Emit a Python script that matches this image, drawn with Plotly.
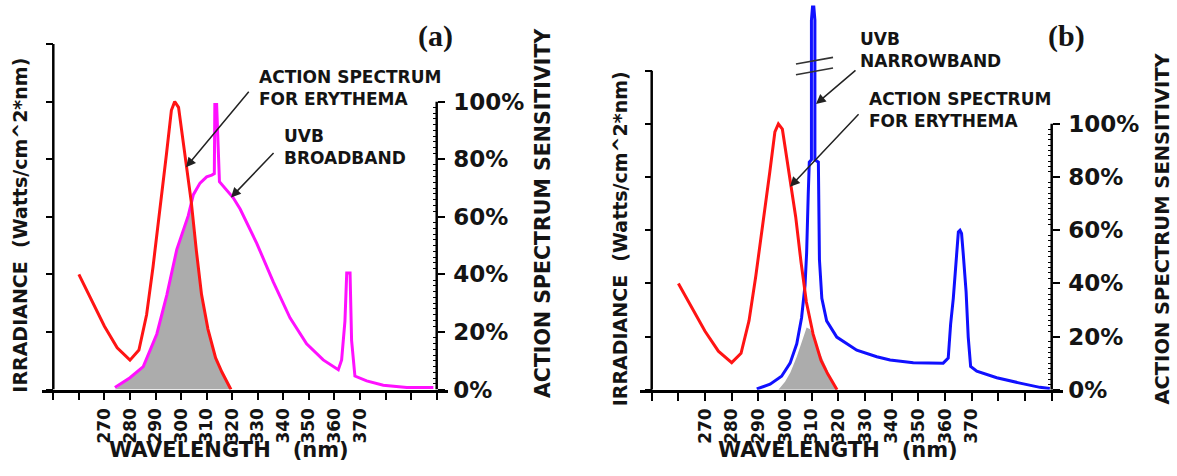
import plotly.graph_objects as go

W, H = 1177, 476

# ---------------- data ----------------
# erythema action spectrum (% sensitivity) - same curve in both panels
ery_wl = [260, 265, 270, 275, 280, 283.5, 286.5, 289, 291.5, 294.3, 296.2, 297.5, 299,
          301, 303, 304, 306, 308, 310.5, 313.5, 316, 318, 319.5]
ery_pct = [40, 31, 22, 14.5, 10.2, 13.7, 26, 42.5, 60.5, 82, 97, 100, 98,
           85, 72, 65, 48, 33, 21, 11, 6, 2.5, 0]

# UVB broadband lamp irradiance (panel a)
bb_wl = [274.1, 280.0, 285.2, 290.5, 294.4, 298.3, 302.8, 304.8, 307.4, 310.0, 312.0, 313.0,
         313.2, 313.9, 315.0, 320.4, 323.1, 329.6, 336.1, 342.6, 349.1, 355.6, 361.5, 362.8,
         364.1, 364.8, 366.1, 366.7, 368.0, 372.6, 379.1, 388.3, 398.7]
bb_irr = [0.7, 4.1, 8.0, 19.3, 32.8, 48.6, 60.4, 67.7, 71.7, 73.9, 74.5, 75.0,
          99.0, 99.0, 72.2, 66.6, 62.7, 50.8, 37.3, 24.9, 15.9, 10.3, 6.9, 10.3,
          23.8, 40.5, 40.5, 17.1, 4.7, 3.0, 1.5, 0.7, 0.7]

# UVB narrowband lamp irradiance (panel b)
nb_wl = [289.4, 294.4, 298.7, 301.9, 304.4, 306.2, 307.5, 308.1, 308.7, 309.1, 309.9, 309.9,
         310.3, 310.8, 311.2, 311.2, 312.5, 312.9, 313.8, 315.6, 319.4, 326.9, 334.4, 339.4,
         348.1, 359.3, 361.2, 362.1, 363.1, 364.1, 365.0, 365.6, 366.2, 366.8, 367.9, 368.7,
         369.6, 371.9, 379.4, 388.1, 395.6, 399.3]
nb_irr = [0.3, 2.1, 5.1, 10.0, 17.3, 27.1, 39.3, 51.5, 73.4, 85.6, 86.5, 139.0,
          144.0, 144.0, 139.0, 86.5, 85.6, 49.0, 34.4, 25.9, 19.8, 14.9, 12.4, 11.2,
          10.2, 10.0, 11.9, 24.7, 34.4, 49.0, 59.4, 60.0, 58.8, 51.5, 36.8, 19.8,
          8.8, 7.0, 4.5, 2.5, 0.9, 0.5]

# shaded (erythemally effective) regions
eff_a_wl = [274.1, 280.0, 285.2, 290.5, 294.4, 298.3, 302.8, 304.0, 306.0, 308.0, 310.5,
            313.5, 316.0, 318.0, 319.5]
eff_a = [0, 4.1, 8.0, 19.3, 32.8, 48.6, 60.4, 64.5, 48, 33, 21, 11, 6, 2.5, 0]
eff_b_wl = [297.5, 300.0, 302.0, 304.4, 306.9, 308.1, 309.4, 310.6, 313.1, 315.6, 318.1, 319.4]
eff_b = [0, 3.0, 6.5, 12.4, 19.8, 23.4, 22.8, 19.8, 13.7, 8.1, 2.0, 0]

wavelength_ticks = [250, 260, 270, 280, 290, 300, 310, 320, 330, 340, 350, 360, 370, 380, 390, 400]
wavelength_labels = ["", "", "270", "280", "290", "300", "310", "320", "330", "340", "350",
                     "360", "370", "", "", ""]
irradiance_ticks = [0, 20, 40, 60, 80, 100, 120]
sens_ticks = [0, 20, 40, 60, 80, 100]
sens_labels = ["0%", "20%", "40%", "60%", "80%", "100%"]
sens_minor = [v for v in range(0, 101, 2) if v % 20]

# ---------------- helpers ----------------
def px(x):
    return x / W


def py(y):
    return 1 - y / H


FONT = "DejaVu Sans"
INK = "#141414"
RED = "#ff1414"
MAG = "#ff10ff"
BLUE = "#1010ff"
GRAY = "#acacac"

fig = go.Figure()

# panel a
fig.add_trace(go.Scatter(x=eff_a_wl, y=eff_a, xaxis="x", yaxis="y", fill="toself",
                         fillcolor=GRAY, line=dict(width=0), mode="lines", hoverinfo="skip"))
fig.add_trace(go.Scatter(x=bb_wl, y=bb_irr, xaxis="x", yaxis="y", mode="lines",
                         line=dict(color=MAG, width=3), name="UVB broadband"))
fig.add_trace(go.Scatter(x=ery_wl, y=ery_pct, xaxis="x", yaxis="y2", mode="lines",
                         line=dict(color=RED, width=3), name="Erythema"))
# panel b
fig.add_trace(go.Scatter(x=eff_b_wl, y=eff_b, xaxis="x2", yaxis="y3", fill="toself",
                         fillcolor=GRAY, line=dict(width=0), mode="lines", hoverinfo="skip"))
fig.add_trace(go.Scatter(x=nb_wl, y=nb_irr, xaxis="x2", yaxis="y3", mode="lines",
                         line=dict(color=BLUE, width=3), name="UVB narrowband"))
fig.add_trace(go.Scatter(x=ery_wl, y=ery_pct, xaxis="x2", yaxis="y4", mode="lines",
                         line=dict(color=RED, width=3), name="Erythema"))

tickfont_x = dict(family=FONT, size=17, color=INK, weight="bold")
tickfont_r = dict(family=FONT, size=23, color=INK, weight="bold")


def xaxis_cfg(dom, anchor):
    return dict(domain=dom, range=[245.6, 404.4], anchor=anchor, showgrid=False, zeroline=False,
                showline=True, linecolor="black", linewidth=2.5,
                tickmode="array", tickvals=wavelength_ticks, ticktext=wavelength_labels,
                ticks="outside", ticklen=8, tickwidth=2, tickcolor="black",
                tickangle=-90, tickfont=tickfont_x, ticklabelstandoff=1)


def left_cfg(dom, rng, pos):
    return dict(domain=dom, range=rng, anchor="free", position=pos, showgrid=False,
                zeroline=False, showline=False, tickmode="array", tickvals=irradiance_ticks,
                ticks="outside", ticklen=7, tickwidth=2, tickcolor="black",
                showticklabels=False)


def right_cfg(over, rng, pos):
    return dict(overlaying=over, side="right", range=rng, anchor="free", position=pos,
                showgrid=False, zeroline=False, showline=False,
                tickmode="array", tickvals=sens_ticks, ticktext=sens_labels,
                ticks="outside", ticklen=7, tickwidth=2, tickcolor="black",
                tickfont=tickfont_r, ticklabelstandoff=4,
                minor=dict(tickmode="array", tickvals=sens_minor, ticks="inside",
                           ticklen=4, tickwidth=1.3, tickcolor="black"))


a_bottom, a_top = 400.5, 400.5 - 120 * 2.96
b_bottom = 400.7
b_max = b_bottom / 2.7335

fig.update_layout(
    width=W, height=H, margin=dict(l=0, r=0, t=0, b=0),
    paper_bgcolor="white", plot_bgcolor="white", showlegend=False,
    xaxis=xaxis_cfg([px(42.05), px(447.95)], "y"),
    yaxis=left_cfg([py(a_bottom), py(a_top)], [0, 120], px(53.3)),
    yaxis2=right_cfg("y", [0, 120], px(436.7)),
    xaxis2=xaxis_cfg([px(639.97), px(1063.43)], "y3"),
    yaxis3=left_cfg([py(b_bottom), 1], [0, b_max], px(651.7)),
    yaxis4=right_cfg("y3", [0, b_max], px(1051.7)),
)

# vertical axis lines
axis_line = dict(color="black", width=2.5)
shapes = [
    dict(type="line", xref="x", yref="y", x0=250, x1=250, y0=0, y1=120, line=axis_line),
    dict(type="line", xref="x", yref="y", x0=400, x1=400, y0=0, y1=100, line=axis_line),
    dict(type="line", xref="x2", yref="y3", x0=250, x1=250, y0=0, y1=120, line=axis_line),
    dict(type="line", xref="x2", yref="y3", x0=400, x1=400, y0=0, y1=100, line=axis_line),
    # axis break marks on the narrowband spike
    dict(type="line", xref="x2", yref="y3", x0=304.1, x1=318.0, y0=122.5, y1=125.0,
         line=dict(color="#333333", width=1.6)),
    dict(type="line", xref="x2", yref="y3", x0=304.1, x1=318.0, y0=118.5, y1=121.0,
         line=dict(color="#333333", width=1.6)),
]
fig.update_layout(shapes=shapes)

ann = []


def label(text, x, y, size=17, xanchor="left", angle=0, family=FONT):
    ann.append(dict(text=text, x=px(x), y=py(y), xref="paper", yref="paper",
                    xanchor=xanchor, yanchor="middle", showarrow=False, textangle=angle,
                    align="left", font=dict(family=family, size=size, color=INK, weight="bold")))


def arrow(hx, hy, tx, ty):
    ann.append(dict(text="", x=px(hx), y=py(hy), xref="paper", yref="paper",
                    ax=tx - hx, ay=ty - hy, showarrow=True, arrowhead=2, arrowsize=1.3,
                    arrowwidth=1.5, arrowcolor="#222222"))


# panel (a)
label("(a)", 435, 37, size=30, xanchor="center", family="Liberation Serif")
label("ACTION SPECTRUM<br>FOR ERYTHEMA", 257, 90)
label("UVB<br>BROADBAND", 282, 151)
arrow(186, 172, 250, 95)
arrow(231, 203, 275, 157)
label("IRRADIANCE&nbsp;&nbsp;(Watts/cm^2*nm)", 20, 232, size=19, xanchor="center", angle=-90)
label("ACTION SPECTRUM SENSITIVITY", 543, 219, size=20.5, xanchor="center", angle=-90)
label("WAVELENGTH&nbsp;&nbsp;&nbsp;(nm)", 229, 463, size=21, xanchor="center")

# panel (b)
label("(b)", 1066, 37, size=30, xanchor="center", family="Liberation Serif")
label("UVB<br>NARROWBAND", 858, 51)
label("ACTION SPECTRUM<br>FOR ERYTHEMA", 867, 113)
arrow(816, 107, 857, 72)
arrow(790, 192, 860, 118)
label("IRRADIANCE&nbsp;&nbsp;(Watts/cm^2*nm)", 620, 246, size=19, xanchor="center", angle=-90)
label("ACTION SPECTRUM SENSITIVITY", 1163, 235, size=19.5, xanchor="center", angle=-90)
label("WAVELENGTH&nbsp;&nbsp;&nbsp;(nm)", 838, 463, size=21, xanchor="center")

fig.update_layout(annotations=ann)

# remove the default page margin so the 1177x476 figure fills the window exactly
page_fix = (
    "document.documentElement.style.overflow='hidden';"
    "document.body.style.margin='0';"
)

fig.write_html(
    "out.html",
    config=dict(displayModeBar=False),
    post_script=page_fix,
)
